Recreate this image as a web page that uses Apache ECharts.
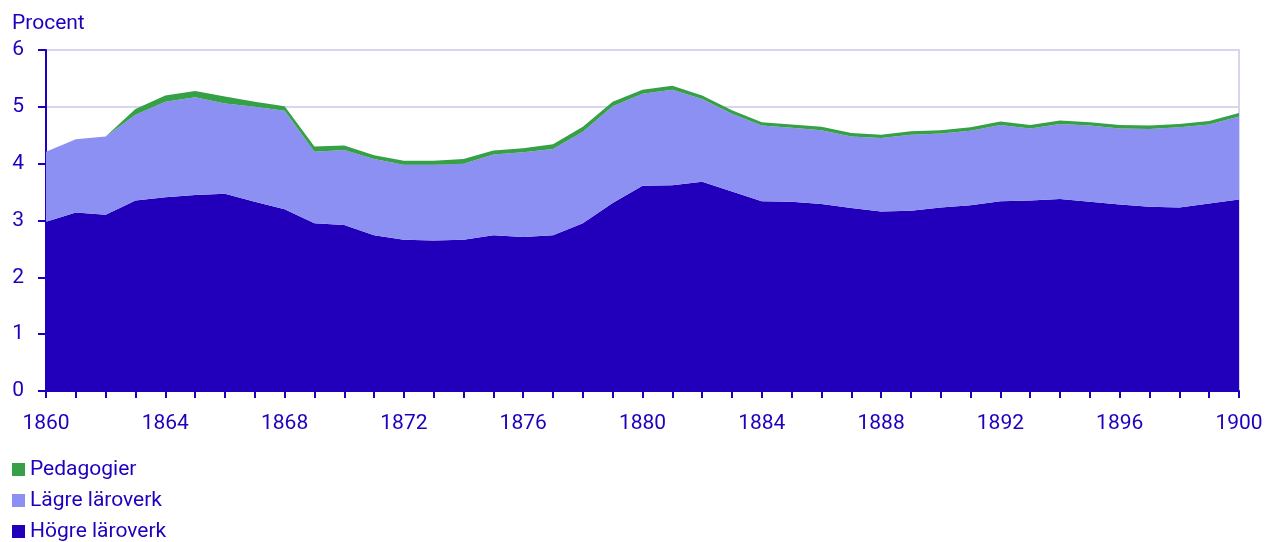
<!DOCTYPE html>
<html>
<head>
<meta charset="utf-8">
<script src="https://cdn.jsdelivr.net/npm/echarts@6/dist/echarts.min.js"></script>
<style>
html,body{margin:0;padding:0;background:#fff;}
#c{width:1266px;height:542px;}
</style>
</head>
<body>
<div id="c"></div>
<script>
const years = [];
for (let y = 1860; y <= 1900; y++) years.push(String(y));

const hogre = [2.98,3.14,3.10,3.35,3.41,3.45,3.47,3.33,3.20,2.95,2.92,2.74,2.66,2.65,2.66,2.74,2.71,2.74,2.95,3.31,3.61,3.62,3.68,3.51,3.34,3.33,3.29,3.22,3.16,3.17,3.23,3.27,3.34,3.35,3.38,3.33,3.28,3.24,3.23,3.30,3.37];
const lagre = [1.23,1.29,1.38,1.51,1.68,1.72,1.59,1.67,1.73,1.26,1.32,1.34,1.32,1.33,1.34,1.42,1.49,1.52,1.61,1.70,1.62,1.68,1.46,1.37,1.33,1.30,1.30,1.26,1.29,1.34,1.30,1.31,1.34,1.27,1.32,1.34,1.34,1.37,1.41,1.39,1.46];
const pedagogier = [0,0,0,0.10,0.11,0.11,0.12,0.09,0.08,0.09,0.08,0.07,0.07,0.07,0.08,0.07,0.07,0.08,0.09,0.08,0.07,0.07,0.06,0.06,0.06,0.06,0.06,0.06,0.06,0.06,0.06,0.06,0.06,0.06,0.06,0.06,0.06,0.06,0.06,0.06,0.06];

const BLUE_TXT = '#1f00be';
const C_HOGRE = '#2200bb';
const C_LAGRE = '#8b90f2';
const C_PED = '#35a046';
const GRIDC = '#d6d6f0';
const FONT = 'Roboto';
const FS = 21;

const chart = echarts.init(document.getElementById('c'), null, {renderer:'canvas'});
function mk(name, data, color) {
  return {
    name: name, type: 'line', stack: 'tot', data: data,
    symbol: 'none', smooth: false,
    lineStyle: {width: 0, color: color},
    areaStyle: {color: color, opacity: 1},
    itemStyle: {color: color},
    emphasis: {disabled: true},
    animation: false
  };
}
chart.setOption({
  animation: false,
  textStyle: {fontFamily: FONT},
  grid: {left: 46, right: 27, top: 50, bottom: 151, show: true, borderColor: GRIDC, borderWidth: 2, backgroundColor: 'transparent'},
  legend: {
    orient: 'vertical', left: 12, top: 459, height: 200, padding: 0,
    data: ['Pedagogier', 'Lägre läroverk', 'Högre läroverk'],
    icon: 'rect', itemWidth: 13, itemHeight: 13, itemGap: 10,
    textStyle: {color: BLUE_TXT, fontSize: FS, lineHeight: 21, fontFamily: FONT},
    selectedMode: false
  },
  xAxis: {
    type: 'category', data: years, boundaryGap: false,
    axisLine: {show: true, lineStyle: {color: BLUE_TXT, width: 2}},
    axisTick: {show: true, interval: 0, length: 7, lineStyle: {color: BLUE_TXT, width: 2}},
    axisLabel: {interval: 3, color: BLUE_TXT, fontSize: FS, margin: 22, fontFamily: FONT},
    splitLine: {show: false}
  },
  yAxis: {
    type: 'value', min: 0, max: 6, interval: 1,
    name: 'Procent', nameLocation: 'end', nameGap: 16,
    nameTextStyle: {color: BLUE_TXT, fontSize: FS, align: 'left', padding: [0,0,0,-34], fontFamily: FONT},
    axisLine: {show: true, lineStyle: {color: BLUE_TXT, width: 2}},
    axisTick: {show: true, length: 8, lineStyle: {color: BLUE_TXT, width: 2}},
    axisLabel: {color: BLUE_TXT, fontSize: FS, margin: 22, fontFamily: FONT},
    splitLine: {show: true, lineStyle: {color: GRIDC, width: 2}}
  },
  series: [
    mk('Högre läroverk', hogre, C_HOGRE),
    mk('Lägre läroverk', lagre, C_LAGRE),
    mk('Pedagogier', pedagogier, C_PED)
  ]
});
</script>
</body>
</html>
